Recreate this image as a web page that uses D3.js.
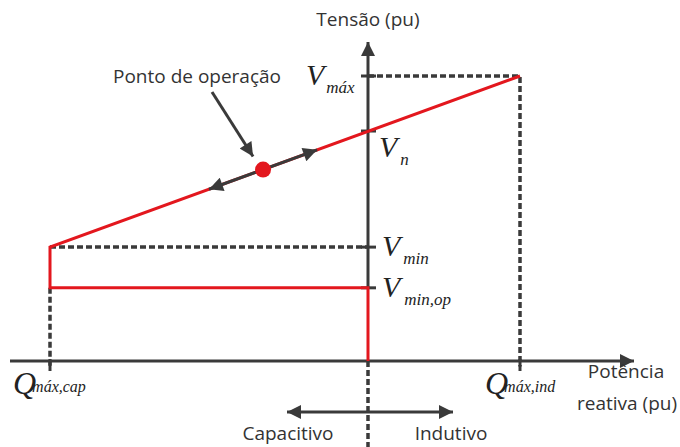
<!DOCTYPE html>
<html lang="pt">
<head>
<meta charset="UTF-8">
<title>Curva Volt-VAr</title>
<style>
    body { margin: 0; background: #fff; }
    .txt { font-family: "Open Sans", sans-serif; font-size: 19px; fill: #333; }
    .math { font-family: "Liberation Serif", serif; font-style: italic; fill: #222; }
</style>
</head>
<body>
<svg class="chart"></svg>
<script src="https://cdn.jsdelivr.net/npm/d3@7"></script>
<script>
    // dados (pu)
    var qPoints = [-1, 0.478]                 // Q max capacitivo, Q max indutivo
    var qLabels = ['cap', 'ind']
    var vLevels = [1.10, 1.00, 0.789, 0.715]  // Vmax, Vn, Vmin, Vmin,op
    var vNames = ['máx', 'n', 'min', 'min,op']
    var qOper = -0.33                          // ponto de operação
    var vAxis = 0.582                          // nível do eixo Q

    var W = 680, H = 447
    var svg = d3.select('.chart').attr('width', W).attr('height', H)

    var x = d3.scaleLinear().domain(qPoints).range([50, 520])
    var y = d3.scaleLinear().domain([vAxis, vLevels[0]]).range([361, 76])

    var grey = '#3a3a3a', red = '#e3171e'
    var vMax = vLevels[0], vMin = vLevels[2], vOp = vLevels[3]
    var droop = d3.scaleLinear().domain(qPoints).range([vMin, vMax])

    // marcadores de seta
    var defs = svg.append('defs')
    function marker(id, w, h) {
        defs.append('marker').attr('id', id)
            .attr('viewBox', '0 0 10 10').attr('refX', 10).attr('refY', 5)
            .attr('markerUnits', 'userSpaceOnUse')
            .attr('markerWidth', w).attr('markerHeight', h)
            .attr('orient', 'auto-start-reverse')
            .append('path').attr('d', 'M0,0 L10,5 L0,10 Z').attr('fill', grey)
    }
    marker('big', 19, 14)
    marker('small', 21, 14)

    var line = d3.line().x(function (d) { return x(d[0]) }).y(function (d) { return y(d[1]) })

    // linhas tracejadas
    var dashed = [
        [[0, vMax], [qPoints[1], vMax], [qPoints[1], vAxis - 0.01]],
        [[qPoints[0], vMin], [0, vMin]],
        [[qPoints[0], vOp], [qPoints[0], vAxis - 0.01]]
    ]
    svg.selectAll('.dash').data(dashed).enter().append('path')
        .attr('d', line).attr('fill', 'none')
        .attr('stroke', grey).attr('stroke-width', 3.5).attr('stroke-dasharray', '6,3')
    svg.append('line')
        .attr('x1', x(0)).attr('x2', x(0)).attr('y1', y(vAxis)).attr('y2', H)
        .attr('stroke', grey).attr('stroke-width', 3.5).attr('stroke-dasharray', '6,3')

    // eixos
    svg.append('line').attr('x1', 10).attr('x2', 634)
        .attr('y1', y(vAxis)).attr('y2', y(vAxis))
        .attr('stroke', grey).attr('stroke-width', 3).attr('marker-end', 'url(#big)')
    svg.append('line').attr('x1', x(0)).attr('x2', x(0))
        .attr('y1', y(vOp)).attr('y2', 42)
        .attr('stroke', grey).attr('stroke-width', 3).attr('marker-end', 'url(#big)')

    // ticks no eixo V
    svg.selectAll('.vtick').data(vLevels).enter().append('line')
        .attr('x1', x(0) - 7).attr('x2', x(0) + 8)
        .attr('y1', function (d) { return y(d) }).attr('y2', function (d) { return y(d) })
        .attr('stroke', grey).attr('stroke-width', 3)
    // ticks no eixo Q
    svg.selectAll('.qtick').data(qPoints).enter().append('line')
        .attr('x1', function (d) { return x(d) }).attr('x2', function (d) { return x(d) })
        .attr('y1', y(vAxis) - 2).attr('y2', y(vAxis) + 10)
        .attr('stroke', grey).attr('stroke-width', 3)

    // curva característica
    var curve = [[qPoints[1], vMax], [qPoints[0], vMin], [qPoints[0], vOp], [0, vOp], [0, vAxis]]
    svg.append('path').attr('d', line(curve)).attr('fill', 'none')
        .attr('stroke', red).attr('stroke-width', 3).attr('stroke-linejoin', 'miter')

    // ponto de operação e setas
    var dq = 0.17
    svg.append('line')
        .attr('x1', x(qOper - dq)).attr('y1', y(droop(qOper - dq)))
        .attr('x2', x(qOper + dq)).attr('y2', y(droop(qOper + dq)))
        .attr('stroke', grey).attr('stroke-width', 3)
        .attr('marker-start', 'url(#small)').attr('marker-end', 'url(#small)')
    svg.append('circle').attr('cx', x(qOper)).attr('cy', y(droop(qOper))).attr('r', 8).attr('fill', red)

    svg.append('line').attr('x1', 212).attr('y1', 92)
        .attr('x2', x(qOper) - 10).attr('y2', y(droop(qOper)) - 13)
        .attr('stroke', grey).attr('stroke-width', 3).attr('marker-end', 'url(#small)')

    // seta capacitivo / indutivo
    svg.append('line').attr('x1', 287).attr('x2', 453).attr('y1', 412).attr('y2', 412)
        .attr('stroke', grey).attr('stroke-width', 3)
        .attr('marker-start', 'url(#big)').attr('marker-end', 'url(#big)')

    // textos
    function txt(s, tx, ty, anchor) {
        svg.append('text').attr('class', 'txt').attr('x', tx).attr('y', ty)
            .attr('text-anchor', anchor || 'start').text(s)
    }
    txt('Tensão (pu)', x(0), 26, 'middle')
    txt('Ponto de operação', 113, 83)
    txt('Potência', 626, 378, 'middle')
    txt('reativa (pu)', 627, 410, 'middle')
    txt('Capacitivo', 288, 440, 'middle')
    txt('Indutivo', 451, 440, 'middle')

    function mathLabel(base, sub, tx, ty, bs, ss, dx, dy) {
        var t = svg.append('text').attr('class', 'math').attr('x', tx).attr('y', ty)
        t.append('tspan').attr('font-size', bs).text(base)
        t.append('tspan').attr('font-size', ss).attr('dx', dx).attr('dy', dy).text(sub)
    }
    var vPos = [[306, 85, 2, 8], [379, 157, 3, 8], [382, 256, 3, 8], [382, 297, 4, 8]]
    vLevels.forEach(function (v, i) {
        mathLabel('V', vNames[i], vPos[i][0], vPos[i][1], 30, 17, vPos[i][2], vPos[i][3])
    })
    mathLabel('Q', 'máx,' + qLabels[0], 13, 394, 32, 16, -4, -2)
    mathLabel('Q', 'máx,' + qLabels[1], 485, 394, 32, 16, -4, -2)
</script>
</body>
</html>
